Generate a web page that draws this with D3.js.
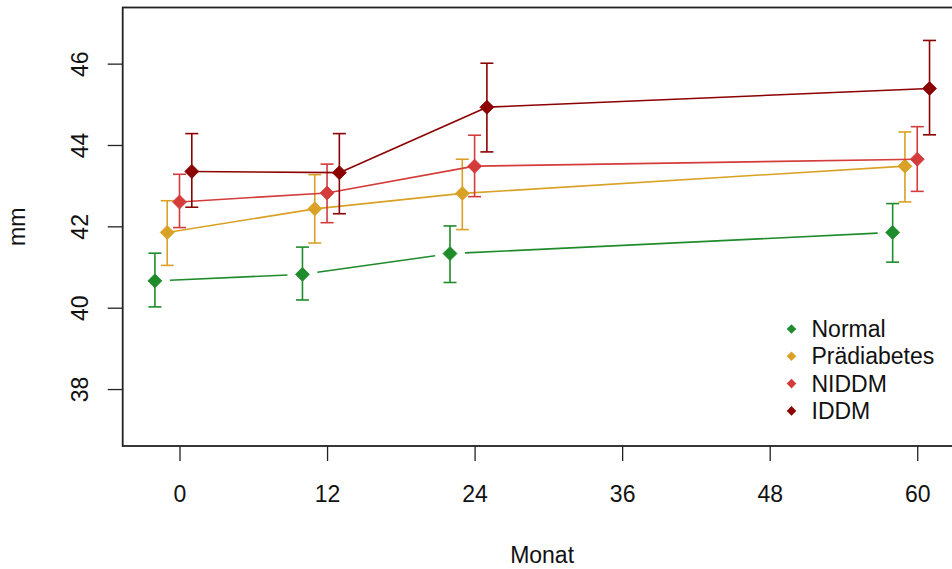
<!DOCTYPE html>
<html>
<head>
<meta charset="utf-8">
<script src="https://cdn.jsdelivr.net/npm/d3@7"></script>
<style>
  html, body { margin: 0; padding: 0; background: #ffffff; }
  svg { display: block; font-family: "Liberation Sans", Arial, sans-serif; }
</style>
</head>
<body>
<svg id="chart" width="952" height="569"></svg>
<script>
// ---- data ----
const months = [0, 12, 24, 60];
const groups = ["Normal", "Prädiabetes", "NIDDM", "IDDM"];
const normalMean = [40.66, 40.82, 41.33, 41.85];
const normalLow  = [40.02, 40.19, 40.62, 41.12];
const normalHigh = [41.34, 41.49, 42.01, 42.56];
const praedMean  = [41.85, 42.43, 42.81, 43.48];
const praedLow   = [41.04, 41.59, 41.92, 42.60];
const praedHigh  = [42.63, 43.27, 43.65, 44.32];
const niddmMean  = [42.60, 42.82, 43.48, 43.65];
const niddmLow   = [41.97, 42.09, 42.73, 42.86];
const niddmHigh  = [43.28, 43.53, 44.24, 44.45];
const iddmMean   = [43.35, 43.32, 44.93, 45.39];
const iddmLow    = [42.47, 42.31, 43.83, 44.25];
const iddmHigh   = [44.28, 44.28, 46.01, 46.57];
const xTicks = [0, 12, 24, 36, 48, 60];
const yTicks = [38, 40, 42, 44, 46];
const xLabel = "Monat";
const yLabel = "mm";

// ---- styles ----
const colors = ["#1f8c2b", "#d9a125", "#d43b3b", "#8b0000"];
const dodge = [-2, -1, 0, 1];       // month offsets to separate groups
const lineGap = [15, 0, 0, 0];      // gap (px) left around points on the line

const series = [
  {mean: normalMean, low: normalLow, high: normalHigh},
  {mean: praedMean,  low: praedLow,  high: praedHigh},
  {mean: niddmMean,  low: niddmLow,  high: niddmHigh},
  {mean: iddmMean,   low: iddmLow,   high: iddmHigh}
].map((s, i) => ({name: groups[i], color: colors[i], off: dodge[i], gap: lineGap[i],
  pts: months.map((m, j) => ({m: m + dodge[i], v: s.mean[j], lo: s.low[j], hi: s.high[j]}))}));

const svg = d3.select("#chart");
const pLeft = 122.7, pRight = 961.5, pTop = 7.5, pBottom = 446;
const x = d3.scaleLinear().domain([-4.62, 63.6]).range([pLeft, pRight]);
const y = d3.scaleLinear().domain([36.6, 47.38]).range([pBottom, pTop]);

const axisColor = "#222";

// x axis
const xAxis = svg.append("g").attr("transform", `translate(0,${pBottom})`)
  .call(d3.axisBottom(x).tickValues(xTicks).tickSize(15).tickPadding(0).tickFormat(d3.format("d")));
xAxis.select(".domain").remove();
xAxis.selectAll(".tick line").attr("stroke", axisColor).attr("stroke-width", 1.3);
xAxis.selectAll(".tick text").attr("y", 56).attr("dy", null).attr("font-size", 23)
  .attr("fill", "#111").attr("font-family", "Liberation Sans, Arial, sans-serif");

// y axis
const yAxis = svg.append("g").attr("transform", `translate(${pLeft},0)`)
  .call(d3.axisLeft(y).tickValues(yTicks).tickSize(15).tickFormat(d3.format("d")));
yAxis.select(".domain").remove();
yAxis.selectAll(".tick line").attr("stroke", axisColor).attr("stroke-width", 1.3);
yAxis.selectAll(".tick text")
  .attr("x", null).attr("dy", null)
  .attr("transform", "translate(-34.5,0) rotate(-90)")
  .attr("text-anchor", "middle").attr("font-size", 23)
  .attr("fill", "#111").attr("font-family", "Liberation Sans, Arial, sans-serif");

// box
svg.append("rect").attr("x", pLeft).attr("y", pTop)
  .attr("width", pRight - pLeft).attr("height", pBottom - pTop)
  .attr("fill", "none").attr("stroke", axisColor).attr("stroke-width", 1.8);

// axis titles
svg.append("text").attr("x", (pLeft + pRight) / 2).attr("y", 562.5)
  .attr("text-anchor", "middle").attr("font-size", 23).attr("fill", "#111").text(xLabel);
svg.append("text").attr("transform", `translate(25,${(pTop + pBottom) / 2}) rotate(-90)`)
  .attr("text-anchor", "middle").attr("font-size", 23).attr("fill", "#111").text(yLabel);

function diamondPath(r) {
  return `M0,${-r}L${r},0L0,${r}L${-r},0Z`;
}

const plot = svg.append("g");
series.forEach(s => {
  const g = plot.append("g");
  // connecting lines
  for (let j = 0; j < s.pts.length - 1; j++) {
    const a = s.pts[j], b = s.pts[j + 1];
    const x1 = x(a.m), y1 = y(a.v), x2 = x(b.m), y2 = y(b.v);
    const len = Math.hypot(x2 - x1, y2 - y1);
    const ux = (x2 - x1) / len, uy = (y2 - y1) / len;
    g.append("line")
      .attr("x1", x1 + ux * s.gap).attr("y1", y1 + uy * s.gap)
      .attr("x2", x2 - ux * s.gap).attr("y2", y2 - uy * s.gap)
      .attr("stroke", s.color).attr("stroke-width", 1.6);
  }
  // error bars
  const eb = g.selectAll("g.eb").data(s.pts).join("g").attr("class", "eb");
  eb.append("line")
    .attr("x1", d => x(d.m)).attr("x2", d => x(d.m))
    .attr("y1", d => y(d.lo)).attr("y2", d => y(d.hi))
    .attr("stroke", s.color).attr("stroke-width", 1.6);
  eb.append("line")
    .attr("x1", d => x(d.m) - 6.5).attr("x2", d => x(d.m) + 6.5)
    .attr("y1", d => y(d.hi)).attr("y2", d => y(d.hi))
    .attr("stroke", s.color).attr("stroke-width", 1.6);
  eb.append("line")
    .attr("x1", d => x(d.m) - 6.5).attr("x2", d => x(d.m) + 6.5)
    .attr("y1", d => y(d.lo)).attr("y2", d => y(d.lo))
    .attr("stroke", s.color).attr("stroke-width", 1.6);
  // points
  g.selectAll("path.pt").data(s.pts).join("path")
    .attr("class", "pt")
    .attr("transform", d => `translate(${x(d.m)},${y(d.v)})`)
    .attr("d", diamondPath(7))
    .attr("fill", s.color)
    .attr("stroke", s.color).attr("stroke-width", 0.8).attr("stroke-linejoin", "round");
});

// legend
const legend = svg.append("g");
series.forEach((s, i) => {
  const ly = 329 + i * 27.3;
  legend.append("path").attr("transform", `translate(791.5,${ly})`)
    .attr("d", diamondPath(4.8)).attr("fill", s.color);
  legend.append("text").attr("x", 811.5).attr("y", ly + 8)
    .attr("font-size", 23).attr("fill", "#111").text(s.name);
});
</script>
</body>
</html>
